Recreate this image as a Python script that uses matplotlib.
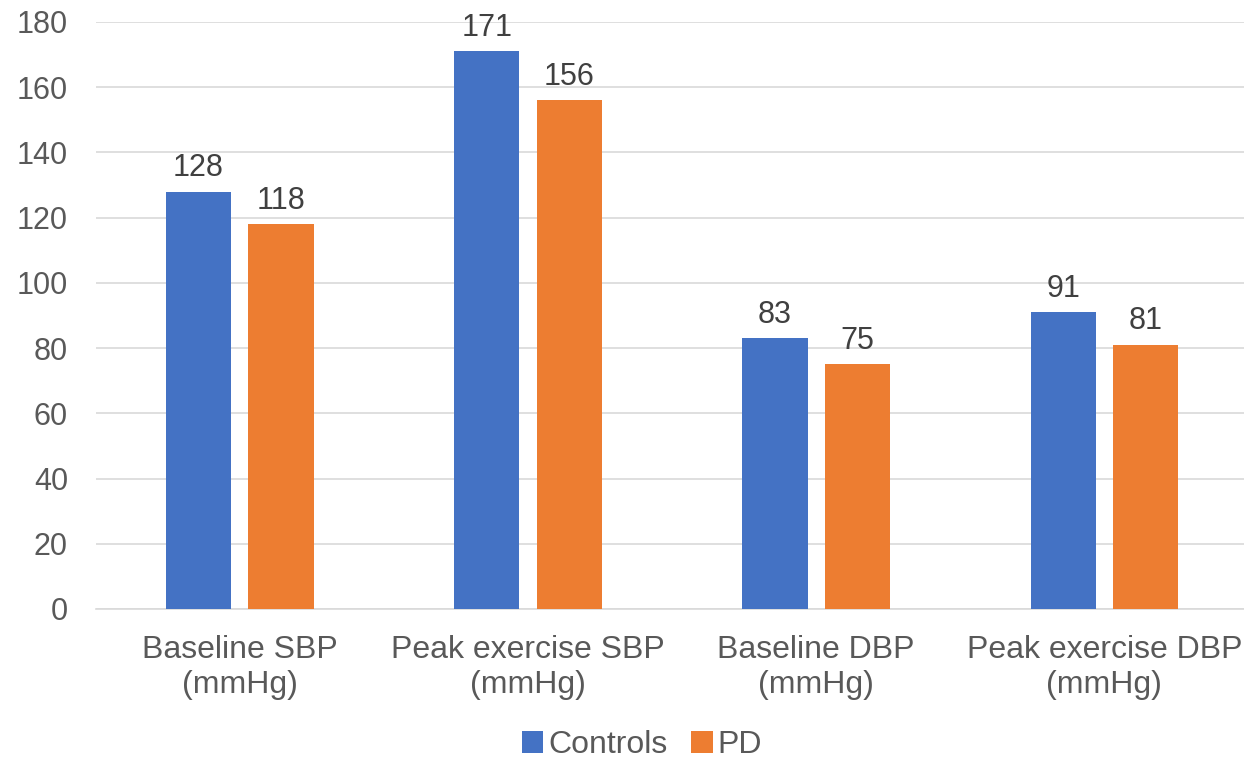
import matplotlib
matplotlib.use("Agg")
import matplotlib.pyplot as plt
import numpy as np

categories = ["Baseline SBP\n(mmHg)", "Peak exercise SBP\n(mmHg)", "Baseline DBP\n(mmHg)", "Peak exercise DBP\n(mmHg)"]
controls = [128, 171, 83, 91]
pd_vals = [118, 156, 75, 81]
yticks = [0, 20, 40, 60, 80, 100, 120, 140, 160, 180]

plt.rcParams['font.family'] = ['Liberation Sans', 'DejaVu Sans']
txt = '#595959'
fs = 22
fs2 = 23

fig = plt.figure(figsize=(12.44, 7.58), dpi=100)
ax = fig.add_axes([0.0769, 0.1966, 0.9267, 0.7744])

x = np.arange(len(categories))
w = 0.226
off = 0.143
b1 = ax.bar(x - off, controls, w, color='#4472C4', label='Controls', zorder=3)
b2 = ax.bar(x + off, pd_vals, w, color='#ED7D31', label='PD', zorder=3)

for bars, vals in ((b1, controls), (b2, pd_vals)):
    for r, v in zip(bars, vals):
        ax.annotate(str(v), (r.get_x() + r.get_width() / 2, v), xytext=(0, 6),
                    textcoords='offset points', ha='center', va='bottom',
                    fontsize=fs, color='#404040')

ax.set_xlim(-0.5, 3.5)
ax.set_ylim(0, 180)
ax.set_yticks(yticks)
ax.set_xticks(x)
ax.set_xticklabels(categories, linespacing=1.2, fontsize=fs2)
ax.tick_params(axis='both', length=0, colors=txt)
ax.tick_params(axis='y', labelsize=fs, pad=20)
ax.tick_params(axis='x', pad=19)
ax.yaxis.grid(True, color='#D9D9D9', linewidth=1.2, zorder=0)
for s in ('top', 'right', 'left'):
    ax.spines[s].set_visible(False)
ax.spines['bottom'].set_color('#D9D9D9')
ax.spines['bottom'].set_linewidth(1.2)

fig.legend(handles=[b1, b2], labels=['Controls', 'PD'], loc='center',
           bbox_to_anchor=(0.516, 0.017), ncol=2, frameon=False, fontsize=fs2,
           labelcolor=txt, handlelength=0.68, handleheight=0.68,
           handletextpad=0.15, columnspacing=0.75)

fig.savefig('out.png', dpi=100)
